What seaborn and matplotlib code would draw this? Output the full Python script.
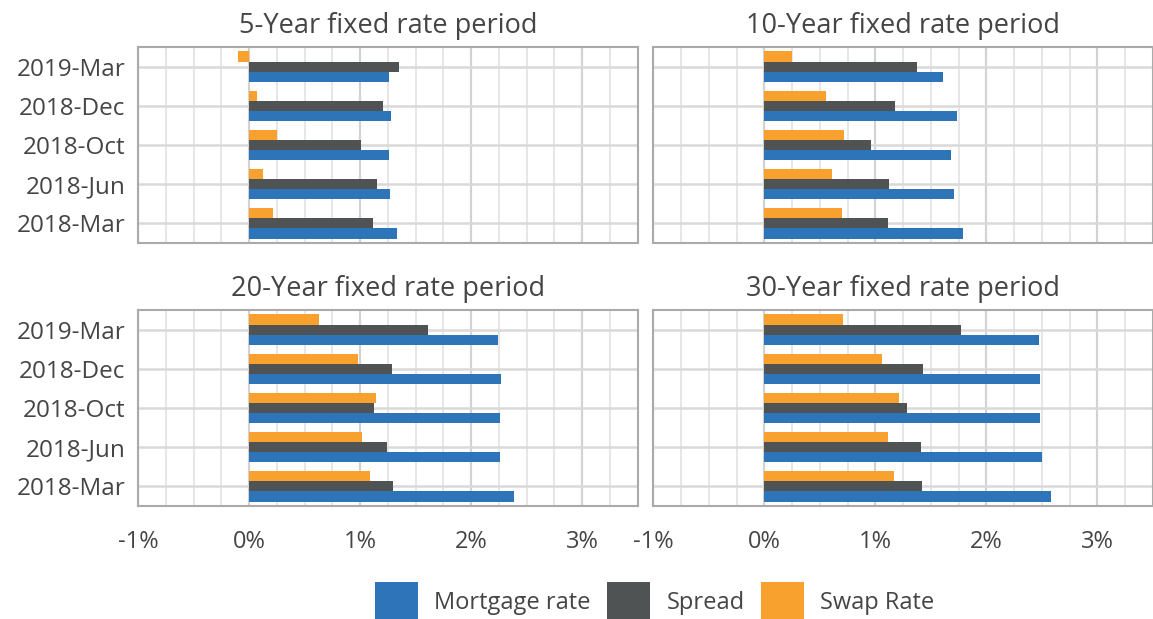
import pandas as pd
import matplotlib.pyplot as plt
import seaborn as sns
from matplotlib.ticker import MultipleLocator, FuncFormatter
from matplotlib.patches import Patch

dates = ['2019-Mar', '2018-Dec', '2018-Oct', '2018-Jun', '2018-Mar']
periods = ['5-Year fixed rate period', '10-Year fixed rate period',
           '20-Year fixed rate period', '30-Year fixed rate period']

# values in %, one list per period, ordered as dates
mortgage_5 = [1.26, 1.28, 1.26, 1.27, 1.33]
spread_5 = [1.35, 1.21, 1.01, 1.15, 1.12]
swap_5 = [-0.10, 0.07, 0.25, 0.125, 0.215]

mortgage_10 = [1.61, 1.73, 1.68, 1.71, 1.79]
spread_10 = [1.37, 1.18, 0.96, 1.125, 1.11]
swap_10 = [0.25, 0.55, 0.72, 0.61, 0.70]

mortgage_20 = [2.24, 2.27, 2.26, 2.26, 2.39]
spread_20 = [1.61, 1.29, 1.13, 1.24, 1.30]
swap_20 = [0.63, 0.985, 1.14, 1.02, 1.09]

mortgage_30 = [2.47, 2.48, 2.48, 2.50, 2.58]
spread_30 = [1.77, 1.43, 1.28, 1.41, 1.42]
swap_30 = [0.71, 1.06, 1.21, 1.11, 1.17]

series = ['Mortgage rate', 'Spread', 'Swap Rate']
colors = {'Mortgage rate': '#2E74B9', 'Spread': '#4F5354', 'Swap Rate': '#F8A12E'}

table = {
    periods[0]: (mortgage_5, spread_5, swap_5),
    periods[1]: (mortgage_10, spread_10, swap_10),
    periods[2]: (mortgage_20, spread_20, swap_20),
    periods[3]: (mortgage_30, spread_30, swap_30),
}

rows = []
for p, vals in table.items():
    for s, v in zip(series, vals):
        for d, x in zip(dates, v):
            rows.append({'period': p, 'series': s, 'date': d, 'value': x})
df = pd.DataFrame(rows)

sns.set_style('white')
plt.rcParams['font.family'] = ['Open Sans', 'DejaVu Sans']
text_col = '#454545'

fig, axes = plt.subplots(2, 2, figsize=(11.53, 6.19), dpi=100)
fig.subplots_adjust(left=0.1197, right=1.0, top=0.924, bottom=0.1826,
                    wspace=0.032, hspace=0.342)

for i, (ax, p) in enumerate(zip(axes.flat, periods)):
    sub = df[df['period'] == p]
    sns.barplot(data=sub, y='date', x='value', hue='series',
                order=dates, hue_order=['Swap Rate', 'Spread', 'Mortgage rate'],
                palette=colors, width=0.78, saturation=1, orient='h',
                linewidth=0, legend=False, ax=ax)
    ax.set_xlim(-1, 3.5)
    ax.set_xticks([-1, 0, 1, 2, 3])
    ax.xaxis.set_minor_locator(MultipleLocator(0.25))
    ax.xaxis.set_major_formatter(FuncFormatter(lambda v, pos: f'{v:.0f}%'))
    ax.set_axisbelow(True)
    ax.grid(which='major', axis='x', color='#d2d2d2', lw=1.6)
    ax.grid(which='minor', axis='x', color='#e2e2e2', lw=1.2)
    ax.grid(which='major', axis='y', color='#d9d9d9', lw=1.8)
    for sp in ax.spines.values():
        sp.set_color('#a9abab')
        sp.set_linewidth(1.5)
    ax.set_xlabel('')
    ax.set_ylabel('')
    ax.set_title(p, fontsize=19.5, color=text_col, pad=10)
    ax.tick_params(axis='x', which='both', length=0, pad=17,
                   labelsize=17, labelcolor=text_col)
    ax.tick_params(axis='y', length=5, width=1.5, color='#a9abab',
                   labelsize=17.5, labelcolor=text_col, pad=4)
    if i % 2 == 1:
        ax.tick_params(axis='y', length=0, labelleft=False)
    if i < 2:
        ax.tick_params(axis='x', labelbottom=False)

handles = [Patch(facecolor=colors[s], edgecolor='none', label=s) for s in series]
fig.legend(handles=handles, loc='center', bbox_to_anchor=(0.568, 0.028),
           ncol=3, frameon=False, fontsize=17, labelcolor=text_col,
           handlelength=1.8, handleheight=2.25, handletextpad=0.7,
           columnspacing=0.7)

fig.savefig('out.png', dpi=100)
